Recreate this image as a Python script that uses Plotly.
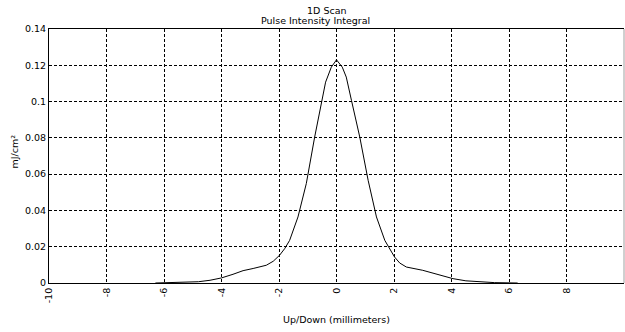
import plotly.graph_objects as go

# Data
position_mm = [-6.3, -5.8, -5.3, -4.8, -4.4, -4.0, -3.6, -3.25, -2.9, -2.44, -2.2, -1.98,
               -1.8, -1.63, -1.34, -1.05, -0.76, -0.45, -0.38, -0.18, 0.0, 0.2, 0.34, 0.52,
               0.81, 1.1, 1.39, 1.68, 2.02, 2.2, 2.43, 3.0, 3.59, 4.05, 4.5, 5.0, 5.5, 6.3]
intensity = [0.0, 0.0002, 0.0004, 0.0007, 0.0015, 0.0028, 0.0048, 0.0068, 0.0080, 0.0098,
             0.0120, 0.0153, 0.0190, 0.0235, 0.0364, 0.0548, 0.0804, 0.1052, 0.1107, 0.1190,
             0.1230, 0.1190, 0.1135, 0.1007, 0.0804, 0.0566, 0.0364, 0.0235, 0.0143, 0.0110,
             0.0088, 0.0070, 0.0042, 0.0024, 0.0012, 0.0005, 0.0002, 0.0]

x_tick_vals = [-10, -8, -6, -4, -2, 0, 2, 4, 6, 8, 10]
x_tick_text = ["-10", "-8", "-6", "-4", "-2", "0", "2", "4", "6", "8", "10"]
y_tick_vals = [0, 0.02, 0.04, 0.06, 0.08, 0.1, 0.12, 0.14]
y_tick_text = ["0", "0.02", "0.04", "0.06", "0.08", "0.1", "0.12", "0.14"]

title_line1 = "1D Scan"
title_line2 = "Pulse Intensity Integral"
x_title = "Up/Down (millimeters)"
y_title = "mJ/cm²"

FONT = "DejaVu Sans"
FS = 9.5

fig = go.Figure()
fig.add_trace(go.Scatter(x=position_mm, y=intensity, mode="lines",
                         line=dict(color="black", width=1), showlegend=False,
                         hoverinfo="skip"))

axis_common = dict(showgrid=True, gridcolor="black", gridwidth=1, griddash="3px,2px",
                   zeroline=False, ticks="", automargin=False,
                   tickfont=dict(family=FONT, size=FS, color="black"))

fig.update_xaxes(range=[-10, 10], tickvals=x_tick_vals, ticktext=x_tick_text, tickangle=-90,
                 showline=True, linecolor="black", linewidth=1, mirror=True, **axis_common)
fig.update_yaxes(range=[0, 0.14], tickvals=y_tick_vals, ticktext=y_tick_text,
                 showline=True, linecolor="black", linewidth=1, **axis_common)

fig.add_shape(type="line", xref="paper", yref="paper", x0=1, x1=1, y0=0, y1=1,
              line=dict(color="#a0a0a0", width=1))

ann_font = dict(family=FONT, size=FS, color="black")
fig.add_annotation(text=title_line1, xref="paper", yref="paper", x=0.482, y=1.0748,
                   xanchor="center", yanchor="middle", showarrow=False, font=ann_font)
fig.add_annotation(text=title_line2, xref="paper", yref="paper", x=0.464, y=1.0315,
                   xanchor="center", yanchor="middle", showarrow=False, font=ann_font)
fig.add_annotation(text=x_title, xref="paper", yref="paper", x=0.5, y=-0.145,
                   xanchor="center", yanchor="middle", showarrow=False, font=ann_font)
fig.add_annotation(text=y_title, xref="paper", yref="paper", x=-0.0617, y=0.5157,
                   xanchor="center", yanchor="middle", textangle=-90, showarrow=False,
                   font=ann_font)

fig.update_layout(width=625, height=332, margin=dict(l=49, r=1, t=29, b=49),
                  plot_bgcolor="white", paper_bgcolor="white",
                  font=dict(family=FONT, size=FS, color="black"))

# Remove the browser's default 8px body margin so the figure fills the window.
fig.write_html("out.html", config={"displayModeBar": False},
               post_script="document.body.style.margin='0';document.body.style.overflow='hidden';")
